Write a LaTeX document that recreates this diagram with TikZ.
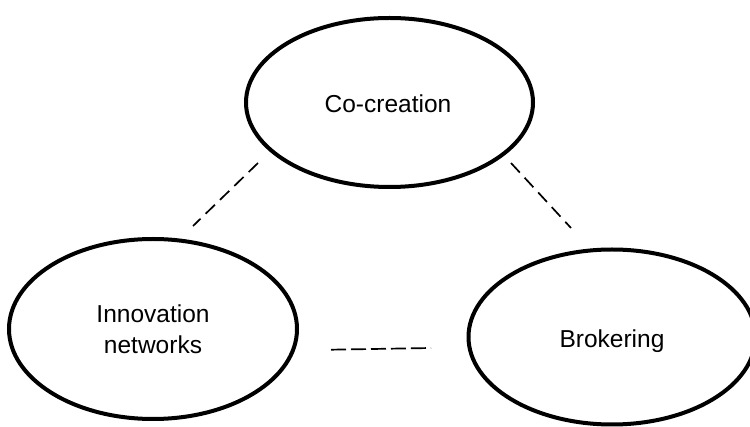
\documentclass[tikz,border=0pt]{standalone}
\usepackage{fontspec}
\setmainfont{Liberation Sans}
\usetikzlibrary{shapes.geometric}

\begin{document}
\begin{tikzpicture}[x=1pt,y=-1pt,
  concept/.style={ellipse,draw=black,line width=4pt,inner sep=0pt},
  label/.style={font=\fontsize{24.5pt}{31pt}\selectfont,align=center},
  link/.style={draw=black,line width=1.7pt,dash pattern=on 13pt off 7pt}]
  \useasboundingbox (0,0) rectangle (750,427);

  % the three concepts
  \node[concept,minimum width=287pt,minimum height=169pt] (cocreation) at (389.5,102.5) {};
  \node[label] (cocreationtext) at (388,104) {Co-creation};

  \node[concept,minimum width=288pt,minimum height=180pt] (innov) at (153,329) {};
  \node[label] (innovtext) at (153,329) {Innovation\\networks};

  \node[concept,minimum width=287pt,minimum height=175pt] (broker) at (612,337) {};
  \node[label] (brokertext) at (612,341) {Brokering};

  % free-standing dashed links between the concepts
  \coordinate (l1a) at (258,163);
  \coordinate (l1b) at (193,226);
  \coordinate (l2a) at (511,163);
  \coordinate (l2b) at (571,228);
  \coordinate (l3a) at (331,349.7);
  \coordinate (l3b) at (431,348);

  \draw[link] (l1a) -- (l1b);
  \draw[link] (l2a) -- (l2b);
  \draw[link,dash pattern=on 15pt off 5pt] (l3a) -- (l3b);
\end{tikzpicture}
\end{document}
